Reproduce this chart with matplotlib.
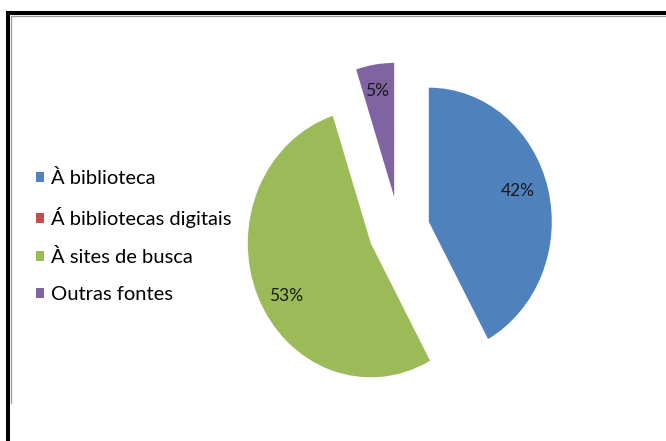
import matplotlib
matplotlib.use("Agg")
import matplotlib.pyplot as plt
from matplotlib.lines import Line2D

categories = ["À biblioteca", "Á bibliotecas digitais", "À sites de busca", "Outras fontes"]
values = [42, 0, 53, 5]
colors = ["#4F81BD", "#C0504D", "#9BBB59", "#8064A2"]

W, H = 666, 441
fig = plt.figure(figsize=(W / 100, H / 100), dpi=100)
plt.rcParams["font.family"] = ["Lato", "DejaVu Sans"]

# pie axes: slightly taller than wide, as in the stretched original chart
cx, cy = 399, 230
rx, ry = 123, 134
lim = 1.4
aw, ah = 2 * lim * rx, 2 * lim * ry
ax = fig.add_axes([(cx - aw / 2) / W, (H - cy - ah / 2) / H, aw / W, ah / H])


def pct(p):
    return "" if p < 0.5 else f"{p:.0f}%"


wedges, texts, autotexts = ax.pie(
    values, colors=colors, startangle=90, counterclock=False,
    explode=[0.25] * len(values), autopct=pct, pctdistance=0.75,
    wedgeprops=dict(linewidth=0),
    textprops=dict(fontsize=12.5, color="#1a1a1a"),
)
# nudge the percentage labels to their usual Excel spots
radial = [1.0, 1.0, 1.0, 1.12]
nudge = [0.045, 0.0, -0.097, -0.067]
for t, r, dy in zip(autotexts, radial, nudge):
    x, y = t.get_position()
    t.set_position((x * r, y * r + dy))

ax.set_aspect("auto")
ax.set_xlim(-lim, lim)
ax.set_ylim(-lim, lim)
ax.axis("off")

fig.legend(
    wedges, categories, loc="center left", bbox_to_anchor=(36 / W, 1 - 236 / H),
    frameon=False, fontsize=14.5, handlelength=0.4, handleheight=0.4,
    handletextpad=0.35, labelspacing=1.0, borderaxespad=0, borderpad=0,
)

# chart border (left and top edges)
def px(xp, yp):
    return [v / W for v in xp], [1 - v / H for v in yp]

xs, ys = px([8, 8, W], [H, 13, 13])
fig.add_artist(Line2D(xs, ys, color="black", linewidth=2.9, solid_joinstyle="miter"))
xs, ys = px([11, 11, W], [403, 16, 16])
fig.add_artist(Line2D(xs, ys, color="#9a9a9a", linewidth=0.9, solid_joinstyle="miter"))

fig.savefig("out.png", dpi=100)
